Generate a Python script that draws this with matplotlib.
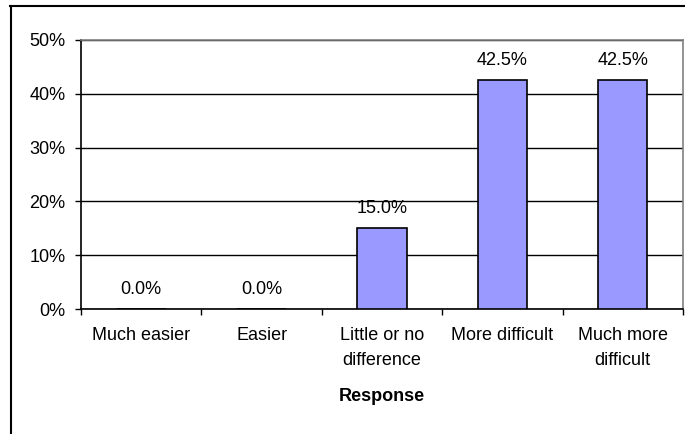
import matplotlib.pyplot as plt
from matplotlib.lines import Line2D
from matplotlib.ticker import FuncFormatter

plt.rcParams["font.family"] = ["Liberation Sans", "DejaVu Sans"]

categories = ["Much easier", "Easier", "Little or no\ndifference",
              "More difficult", "Much more\ndifficult"]
values = [0.0, 0.0, 15.0, 42.5, 42.5]

fig = plt.figure(figsize=(6.85, 4.34), dpi=100)
ax = fig.add_axes([81 / 685, 125 / 434, 602 / 685, 269 / 434])

x = range(len(categories))
bars = ax.bar(x, values, width=0.41, color="#9999ff", edgecolor="black",
              linewidth=1.2, zorder=3)

for xi, v in zip(x, values):
    ax.annotate(f"{v:.1f}%", (xi, v), xytext=(0, 8), textcoords="offset points",
                ha="center", va="bottom", fontsize=13)

ax.set_xlim(-0.5, len(categories) - 0.5)
ax.set_ylim(0, 50)
ax.set_yticks(range(0, 51, 10))
ax.yaxis.set_major_formatter(FuncFormatter(lambda v, p: f"{v:.0f}%"))
ax.tick_params(axis="y", length=4, width=1, pad=7, labelsize=13, direction="out")
ax.grid(axis="y", color="black", linewidth=1, zorder=0)

ax.set_xticks(list(x))
ax.set_xticklabels(categories, fontsize=13, linespacing=1.6)
ax.set_xticks([i - 0.5 for i in range(len(categories) + 1)], minor=True)
ax.tick_params(axis="x", which="major", length=0, pad=13)
ax.tick_params(axis="x", which="minor", length=4, width=1, direction="out")
ax.set_xlabel("Response", fontsize=13, fontweight="bold", labelpad=14)

for side in ["left", "bottom"]:
    ax.spines[side].set_color("black")
    ax.spines[side].set_linewidth(1.2)
for side in ["top", "right"]:
    ax.spines[side].set_color("#808080")
    ax.spines[side].set_linewidth(1.2)

# outer chart border (extends past the image on the right and bottom)
fig.add_artist(Line2D([10.5 / 685, 10.5 / 685], [0, 1 - 6 / 434],
                      color="black", linewidth=1.5))
fig.add_artist(Line2D([10 / 685, 1], [1 - 6 / 434, 1 - 6 / 434],
                      color="black", linewidth=1.5))

fig.savefig("out.png", dpi=100)
